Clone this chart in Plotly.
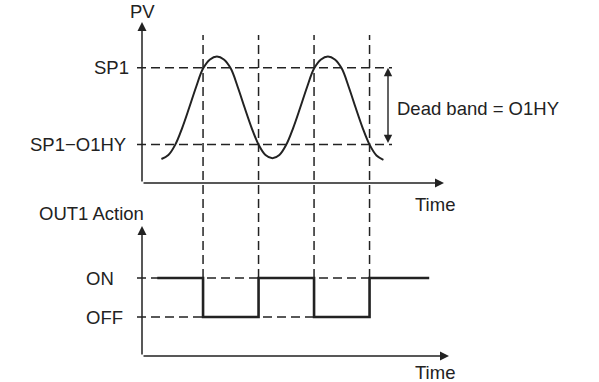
import plotly.graph_objects as go

# ---------------- data ----------------
pv_time = [0.7, 0.95, 1.2, 1.45, 1.7, 1.95, 2.2, 2.45, 2.7, 2.95, 3.2, 3.45, 3.7, 3.95,
           4.2, 4.45, 4.7, 4.95, 5.2, 5.45, 5.7, 5.95, 6.2, 6.45, 6.7, 6.95, 7.2, 7.45,
           7.7, 7.95, 8.2, 8.45, 8.7]
pv_value = [1.5, 1.75, 2.4, 3.45, 4.7, 6.0, 7.15, 7.72, 7.9, 7.72, 7.15, 6.0, 4.7, 3.45,
            2.4, 1.75, 1.55, 1.75, 2.4, 3.45, 4.7, 6.0, 7.15, 7.72, 7.9, 7.72, 7.15, 6.0,
            4.7, 3.45, 2.4, 1.72, 1.45]
SP1 = 7.2
SP1_MINUS_HY = 2.4
switch_times = [2.2, 4.2, 6.2, 8.2]
out_time = [0.55, 2.2, 4.2, 6.2, 8.2, 10.35]
out_state = [1, 0, 1, 0, 1, 1]
ON, OFF = 1, 0
level_labels_pv = ["SP1", "SP1\u2212O1HY"]
level_labels_out = ["ON", "OFF"]

# ---------------- layout helpers (pixel geometry) ----------------
W, H = 599, 382
X0PX, XPX = 142, 27.75            # time 0 at pixel 142, px per time unit
Y_PV0, Y_PVPX = 183, 16.0         # PV 0 at pixel row 183
Y_OFF, Y_OUTPX = 317, 39.0        # OFF at pixel row 317

def t_of(px):
    return (px - X0PX) / XPX

def pv_of(py):
    return (Y_PV0 - py) / Y_PVPX

def out_of(py):
    return (Y_OFF - py) / Y_OUTPX

xr = [t_of(0), t_of(W)]
yr = [pv_of(H), pv_of(0)]
y2r = [out_of(H), out_of(0)]

INK = "#222222"
FONT = "Liberation Sans, Arial, sans-serif"
DASH = "9px,5px"

fig = go.Figure()

fig.add_trace(go.Scatter(x=pv_time, y=pv_value, mode="lines",
                         line=dict(color=INK, width=2, shape="spline", smoothing=1.0),
                         xaxis="x", yaxis="y", hoverinfo="skip"))
fig.add_trace(go.Scatter(x=out_time, y=out_state, mode="lines",
                         line=dict(color=INK, width=2.6, shape="hv"),
                         xaxis="x", yaxis="y2", hoverinfo="skip"))

shapes = []
for lv in [SP1, SP1_MINUS_HY]:
    shapes.append(dict(type="line", xref="x", yref="y", x0=t_of(137), x1=t_of(392), y0=lv, y1=lv,
                       line=dict(color=INK, width=1.5, dash=DASH), layer="below"))
for lv in [ON, OFF]:
    shapes.append(dict(type="line", xref="x", yref="y2", x0=t_of(137), x1=switch_times[-1], y0=lv, y1=lv,
                       line=dict(color=INK, width=1.5, dash=DASH), layer="below"))
for ts in switch_times:
    shapes.append(dict(type="line", xref="x", yref="paper", x0=ts, x1=ts,
                       y0=1 - (Y_OFF - ON * Y_OUTPX) / H, y1=1 - 35 / H,
                       line=dict(color=INK, width=1.5, dash=DASH), layer="below"))
fig.update_layout(shapes=shapes)

ann = []
def arrow(x0, y0, x1, y1, yref, heads=1, width=1.5):
    ann.append(dict(x=x1, y=y1, ax=x0, ay=y0, xref="x", yref=yref, axref="x", ayref=yref,
                    showarrow=True, arrowhead=2, arrowsize=1.2, arrowwidth=width,
                    arrowcolor=INK, text="", startarrowhead=2, startarrowsize=1.2,
                    arrowside="end+start" if heads == 2 else "end"))

arrow(0, pv_of(183), 0, pv_of(22), "y")
arrow(0, 0, t_of(444), 0, "y")
arrow(0, out_of(356), 0, out_of(226), "y2")
arrow(0, out_of(356), t_of(449), out_of(356), "y2")
arrow(t_of(388), SP1_MINUS_HY, t_of(388), SP1, "y", heads=2, width=1.4)

def text(s, x, y, yref, xanchor, size=18.5):
    ann.append(dict(text=s, x=x, y=y, xref="x", yref=yref, xanchor=xanchor, yanchor="middle",
                    showarrow=False, font=dict(family=FONT, size=size, color=INK)))

text("PV", 0, pv_of(11), "y", "center")
text(level_labels_pv[0], t_of(131), SP1, "y", "right")
text(level_labels_pv[1], t_of(128), SP1_MINUS_HY, "y", "right")
text("Dead band = O1HY", t_of(395), pv_of(108), "y", "left")
text("Time", t_of(413), pv_of(204), "y", "left")
text("OUT1 Action", t_of(37), out_of(213), "y2", "left")
text(level_labels_out[0], t_of(84), ON, "y2", "left")
text(level_labels_out[1], t_of(84), OFF, "y2", "left")
text("Time", t_of(413), out_of(372), "y2", "left")

fig.update_layout(
    annotations=ann,
    width=W, height=H,
    margin=dict(l=0, r=0, t=0, b=0),
    paper_bgcolor="white", plot_bgcolor="white",
    showlegend=False,
    xaxis=dict(range=xr, visible=False, fixedrange=True),
    yaxis=dict(range=yr, visible=False, fixedrange=True),
    yaxis2=dict(range=y2r, visible=False, overlaying="y", fixedrange=True),
)

fig.write_html("out.html")
